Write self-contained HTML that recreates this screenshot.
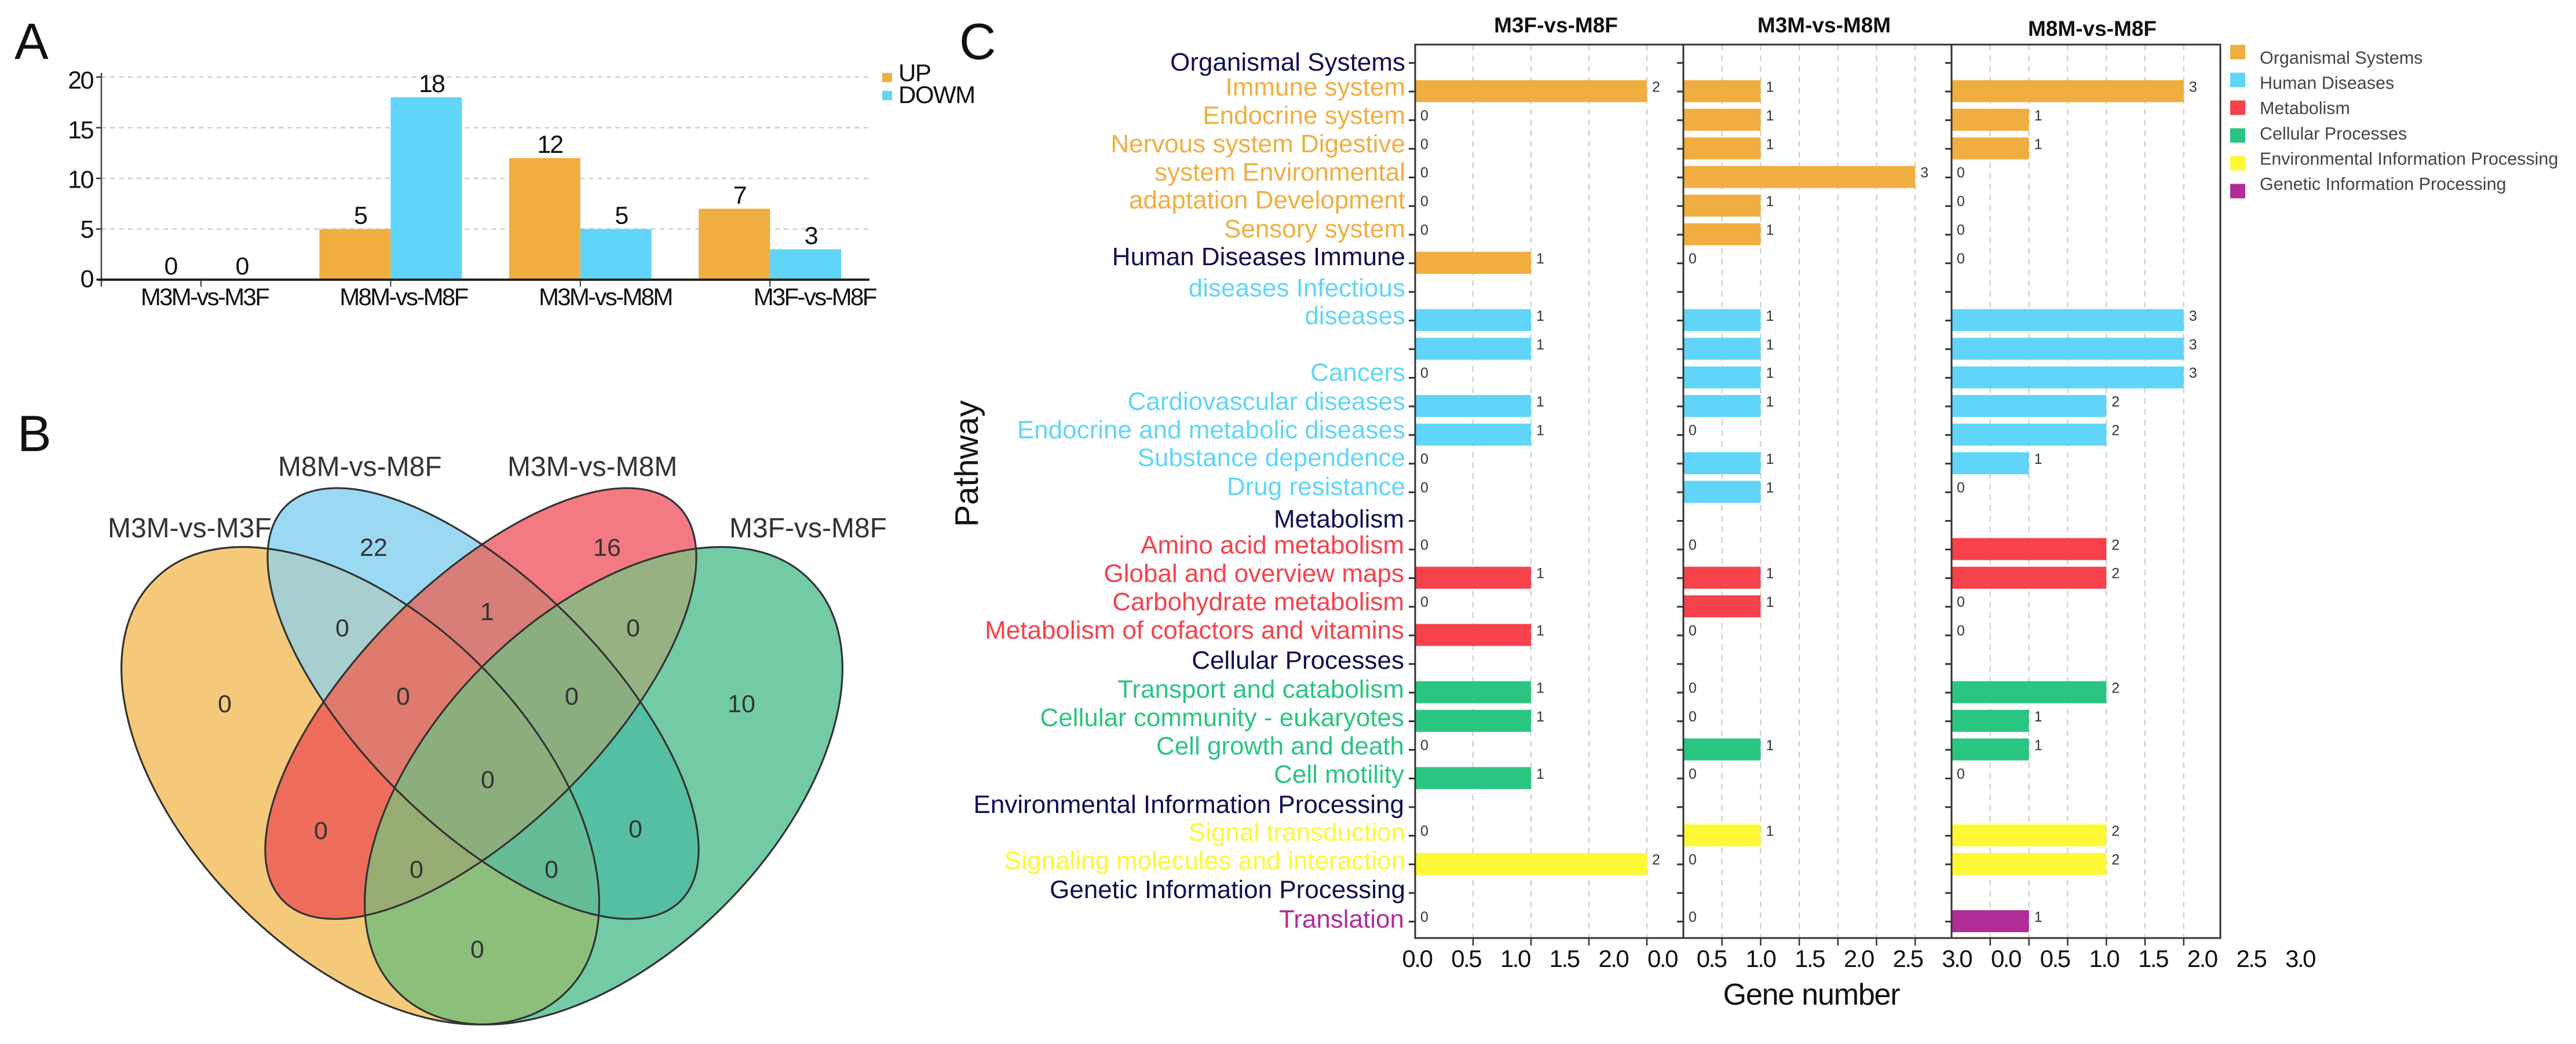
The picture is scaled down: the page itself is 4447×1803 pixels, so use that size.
<!DOCTYPE html>
<html lang="en">
<head>
<meta charset="utf-8">
<title>Differential pathway figure</title>
<style>
html,body{margin:0;padding:0;background:#fff;width:4447px;height:1803px;overflow:hidden}
svg{display:block;font-family:"Liberation Sans",sans-serif}
</style>
</head>
<body>
<svg id="figure" xmlns="http://www.w3.org/2000/svg" width="4447" height="1803" viewBox="0 0 4447 1803">
  <defs>
    <path id="set-o" d="M266.33 1001.33A503 292 45 1 1 977.67 1712.67A503 292 45 1 1 266.33 1001.33Z"/>
    <path id="set-b" d="M493.17 874.17A482 211 45 1 1 1174.83 1555.83A482 211 45 1 1 493.17 874.17Z"/>
    <path id="set-r" d="M489.17 1555.83A482 211 -45 1 1 1170.83 874.17A482 211 -45 1 1 489.17 1555.83Z"/>
    <path id="set-g" d="M686.33 1712.67A503 292 -45 1 1 1397.67 1001.33A503 292 -45 1 1 686.33 1712.67Z"/>
    <clipPath id="clip-o"><use href="#set-o"/></clipPath>
    <clipPath id="clip-b"><use href="#set-b"/></clipPath>
    <clipPath id="clip-r"><use href="#set-r"/></clipPath>
    <clipPath id="clip-g"><use href="#set-g"/></clipPath>
  </defs>
  <rect width="4447" height="1803" fill="#fff"/>
  <text x="25" y="102" font-size="88" fill="#111">A</text>
  <text x="30" y="779" font-size="88" fill="#111">B</text>
  <text x="1656" y="102" font-size="88" fill="#111">C</text>

  <g id="panel-a"></g>

  <g id="panel-b">
    <use href="#set-o" fill="#f4c97a"/>
    <use href="#set-b" fill="#9bd9f3"/>
    <use href="#set-r" fill="#f37a82"/>
    <use href="#set-g" fill="#72cba5"/>
    <g clip-path="url(#clip-o)">
      <use href="#set-b" fill="#a8cfd0"/>
      <use href="#set-r" fill="#ee6d5a"/>
      <use href="#set-g" fill="#8cc07a"/>
    </g>
    <g clip-path="url(#clip-b)">
      <use href="#set-r" fill="#d97d78"/>
      <use href="#set-g" fill="#55bfa3"/>
    </g>
    <g clip-path="url(#clip-r)">
      <use href="#set-g" fill="#96b282"/>
    </g>
    <g clip-path="url(#clip-o)">
      <g clip-path="url(#clip-b)">
        <use href="#set-r" fill="#de7a6e"/>
        <use href="#set-g" fill="#64bc96"/>
      </g>
      <g clip-path="url(#clip-r)">
        <use href="#set-g" fill="#96ac73"/>
      </g>
    </g>
    <g clip-path="url(#clip-b)">
      <g clip-path="url(#clip-r)">
        <use href="#set-g" fill="#8aae80"/>
      </g>
    </g>
    <g clip-path="url(#clip-o)">
      <g clip-path="url(#clip-b)">
        <g clip-path="url(#clip-r)">
          <use href="#set-g" fill="#8cae7d"/>
        </g>
      </g>
    </g>
    <g fill="none" stroke="#333" stroke-width="3.2">
      <use href="#set-o"/>
      <use href="#set-b"/>
      <use href="#set-r"/>
      <use href="#set-g"/>
    </g>
    <g font-size="48" fill="#333">
      <text x="186" y="928">M3M-vs-M3F</text>
      <text x="480" y="822">M8M-vs-M8F</text>
      <text x="876" y="822">M3M-vs-M8M</text>
      <text x="1259" y="928">M3F-vs-M8F</text>
    </g>
    <g font-size="43" fill="#333" text-anchor="middle">
      <text x="645" y="960">22</text>
      <text x="1048" y="960">16</text>
      <text x="388" y="1230">0</text>
      <text x="1280" y="1230">10</text>
      <text x="591" y="1099">0</text>
      <text x="841" y="1071">1</text>
      <text x="1093" y="1099">0</text>
      <text x="696" y="1217">0</text>
      <text x="987" y="1217">0</text>
      <text x="842" y="1361">0</text>
      <text x="554" y="1449">0</text>
      <text x="1097" y="1446">0</text>
      <text x="719" y="1516">0</text>
      <text x="952" y="1516">0</text>
      <text x="824" y="1654">0</text>
    </g>
  </g>

  <g id="panel-c"></g>

  <g id="pathway-labels" font-size="44" text-anchor="end">
    <g fill="#0f1150">
      <text x="2426" y="122">Organismal Systems</text>
      <text x="2426" y="458">Human Diseases Immune</text>
      <text x="2424" y="911">Metabolism</text>
      <text x="2424" y="1155">Cellular Processes</text>
      <text x="2424" y="1404">Environmental Information Processing</text>
      <text x="2426" y="1551">Genetic Information Processing</text>
    </g>
    <g fill="#f0ae40">
      <text x="2426" y="165">Immune system</text>
      <text x="2426" y="214">Endocrine system</text>
      <text x="2426" y="263">Nervous system Digestive</text>
      <text x="2426" y="312">system Environmental</text>
      <text x="2426" y="360">adaptation Development</text>
      <text x="2426" y="410">Sensory system</text>
    </g>
    <g fill="#60d5f8">
      <text x="2426" y="512">diseases Infectious</text>
      <text x="2426" y="560">diseases</text>
      <text x="2426" y="658">Cancers</text>
      <text x="2426" y="708">Cardiovascular diseases</text>
      <text x="2426" y="757">Endocrine and metabolic diseases</text>
      <text x="2426" y="805">Substance dependence</text>
      <text x="2426" y="855">Drug resistance</text>
    </g>
    <g fill="#f5424b">
      <text x="2424" y="956">Amino acid metabolism</text>
      <text x="2424" y="1005">Global and overview maps</text>
      <text x="2424" y="1054">Carbohydrate metabolism</text>
      <text x="2424" y="1103">Metabolism of cofactors and vitamins</text>
    </g>
    <g fill="#2ac580">
      <text x="2424" y="1205">Transport and catabolism</text>
      <text x="2424" y="1254">Cellular community - eukaryotes</text>
      <text x="2424" y="1303">Cell growth and death</text>
      <text x="2424" y="1352">Cell motility</text>
    </g>
    <g fill="#fdf835">
      <text x="2426" y="1452">Signal transduction</text>
      <text x="2426" y="1501">Signaling molecules and interaction</text>
    </g>
    <text x="2424" y="1602" fill="#b02d98">Translation</text>
  </g>
  <text transform="translate(1688 910) rotate(-90)" font-size="57" fill="#111">Pathway</text>
  <text x="3127" y="1735" font-size="52" letter-spacing="-1.2" text-anchor="middle" fill="#111">Gene number</text>
</svg>
<script>
const comparisonLabels = ["M3M-vs-M3F", "M8M-vs-M8F", "M3M-vs-M8M", "M3F-vs-M8F"];
const upCounts = [0, 5, 12, 7];
const downCounts = [0, 18, 5, 3];
const countTicks = [0, 5, 10, 15, 20];
const seriesLabels = ["UP", "DOWM"];

const groupNames = ["Organismal Systems", "Human Diseases", "Metabolism", "Cellular Processes", "Environmental Information Processing", "Genetic Information Processing"];
const rowGroups = [null,0,0,0,0,0,0,0,null,1,1,1,1,1,1,1,null,2,2,2,2,null,3,3,3,3,null,4,4,null,5];
const geneM3FvsM8F = [null,2,0,0,0,0,0,1,null,1,1,0,1,1,0,0,null,0,1,0,1,null,1,1,0,1,null,0,2,null,0];
const geneM3MvsM8M = [null,1,1,1,3,1,1,0,null,1,1,1,1,0,1,1,null,0,1,1,0,null,0,0,1,0,null,1,0,null,0];
const geneM8MvsM8F = [null,3,1,1,0,0,0,0,null,3,3,3,2,2,1,0,null,2,2,0,0,null,2,1,1,0,null,2,2,null,1];
const facetTitles = ["M3F-vs-M8F", "M3M-vs-M8M", "M8M-vs-M8F"];
const geneTickLabels = ["0.0","0.5","1.0","1.5","2.0","0.0","0.5","1.0","1.5","2.0","2.5","3.0","0.0","0.5","1.0","1.5","2.0","2.5","3.0"];

const SVGNS = "http://www.w3.org/2000/svg";
const AMBER = "#f0ae40", SKY = "#60d5f8";
const groupColours = [AMBER, SKY, "#f5424b", "#2ac580", "#fdf835", "#b02d98"];

function make(parent, tag, attrs, text) {
  const el = document.createElementNS(SVGNS, tag);
  for (const k in attrs) el.setAttribute(k, attrs[k]);
  if (text !== undefined) el.textContent = text;
  parent.appendChild(el);
  return el;
}
function slug(s) { return String(s).toLowerCase().replace(/[^a-z0-9]+/g, "-"); }

/* ---------- Panel A ---------- */
const pa = document.getElementById("panel-a");
const yA = v => 483 - v * 17.5;
const yALabel = v => 496 - v * 17.15;
const groupX = i => 347 + i * 327.4;
const BAR_A = 123;

countTicks.forEach(t => {
  if (t > 0) {
    const g = make(pa, "line", {x1:175, x2:1501, y1:yA(t), y2:yA(t), stroke:"#cdcdcd", "stroke-width":2.6, "stroke-dasharray":"8 7.3"});
    
    
  }
  const tk = make(pa, "line", {x1:166, x2:175, y1:yA(t), y2:yA(t), stroke:"#333", "stroke-width":2.5});
  
  
  const lb = make(pa, "text", {x:160, y:yALabel(t), "font-size":43, "letter-spacing":-2.5, "text-anchor":"end", fill:"#111"}, t);
  
  
});

function barsA(values, offset, colour, key) {
  values.forEach((v, i) => {
    const x = groupX(i) + offset;
    if (v > 0) {
      const r = make(pa, "rect", {x:x, y:yA(v), width:BAR_A, height:yA(0) - yA(v), fill:colour});
      
      
    }
    const t = make(pa, "text", {x:x + BAR_A / 2 + 9, y:yA(v) - 9, "font-size":43, "text-anchor":"middle", "letter-spacing":-2, fill:"#111"}, v);
    
    
  });
}
barsA(upCounts, -BAR_A, AMBER, "up");
barsA(downCounts, 0, SKY, "down");

const axisAY = make(pa, "line", {x1:175, x2:175, y1:126, y2:495, stroke:"#444", "stroke-width":2.5});


const axisAX = make(pa, "line", {x1:168, x2:1501, y1:483, y2:483, stroke:"#222", "stroke-width":4});



comparisonLabels.forEach((c, i) => {
  const tk = make(pa, "line", {x1:groupX(i), x2:groupX(i), y1:483, y2:495, stroke:"#333", "stroke-width":2});
  
  
  const t = make(pa, "text", {x:groupX(i) + 6 + (i === 3 ? 71 : 0) + (i === 2 ? 37 : 0) + (i === 1 ? 16 : 0), y:527, "font-size":42, "letter-spacing":-2.7, "text-anchor":"middle", fill:"#111"}, c);
  
  
});

seriesLabels.forEach((s, i) => {
  const colour = i === 0 ? AMBER : SKY;
  const r = make(pa, "rect", {x:1523, y:126 + i * 31, width:17, height:16, fill:colour});
  
  
  const t = make(pa, "text", {x:1551, y:140 + i * 38, "font-size":42, "letter-spacing":-1.5, fill:"#111"}, s);
  
  
});

/* ---------- Panel C ---------- */
const pc = document.getElementById("panel-c");
const PLOT_TOP = 77, PLOT_BOTTOM = 1620;
const rowY = r => 108 + r * 49.43;
const BAR_C = 38;
const facets = [
  {values: geneM3FvsM8F, left: 2443, right: 2906, unit: 200,   maxTick: 2, titleX: 2686, titleY: 56},
  {values: geneM3MvsM8M, left: 2906, right: 3369, unit: 133.4, maxTick: 3, titleX: 3149, titleY: 56},
  {values: geneM8MvsM8F, left: 3369, right: 3833, unit: 133.6, maxTick: 3, titleX: 3612, titleY: 62}
];

facets.forEach((f, fi) => {
  const xOf = v => f.left + v * f.unit;
  for (let t = 0.5; t <= f.maxTick; t += 0.5) {
    const g = make(pc, "line", {x1:xOf(t), x2:xOf(t), y1:PLOT_TOP, y2:PLOT_BOTTOM, stroke:"#cdcdcd", "stroke-width":2.2, "stroke-dasharray":"10 8.5"});
    
    
    const k = make(pc, "line", {x1:xOf(t), x2:xOf(t), y1:PLOT_BOTTOM, y2:PLOT_BOTTOM + 13, stroke:"#333", "stroke-width":2.5});
    
    
  }
  rowGroups.forEach((grp, r) => {
    const tk = make(pc, "line", {x1:f.left - 11, x2:f.left, y1:rowY(r) + 0.7, y2:rowY(r) + 0.7, stroke:"#333", "stroke-width":3});
    
    
    const v = f.values[r];
    if (v === null || grp === null) return;
    if (v > 0) {
      const b = make(pc, "rect", {x:f.left, y:rowY(r) - BAR_C / 2, width:xOf(v) - f.left, height:BAR_C, fill:groupColours[grp]});
      
      
    }
    const t = make(pc, "text", {x:xOf(v) + 16, y:rowY(r) + 1, "font-size":25, "text-anchor":"middle", fill:"#333"}, v);
    
    
  });
  const title = make(pc, "text", {x:f.titleX, y:f.titleY, "font-size":37, "font-weight":"bold", "text-anchor":"middle", fill:"#111"}, facetTitles[fi]);
  
  
  const left = make(pc, "line", {x1:f.left, x2:f.left, y1:PLOT_TOP, y2:PLOT_BOTTOM, stroke:"#333", "stroke-width":3});
  
  
});

const frame = make(pc, "rect", {x:2443, y:PLOT_TOP, width:1390, height:PLOT_BOTTOM - PLOT_TOP, fill:"none", stroke:"#333", "stroke-width":3});



geneTickLabels.forEach((s, i) => {
  const t = make(pc, "text", {x:2446 + i * 84.7, y:1670, "font-size":42, "letter-spacing":-2.5, "text-anchor":"middle", fill:"#111"}, s);
  
  
});

groupNames.forEach((g, i) => {
  const r = make(pc, "rect", {x:3850, y:77.5 + i * 48, width:26, height:25, fill:groupColours[i]});
  
  
  const t = make(pc, "text", {x:3901, y:110 + i * 43.6, "font-size":30.5, fill:"#444"}, g);
  
  
});
</script>
</body>
</html>
